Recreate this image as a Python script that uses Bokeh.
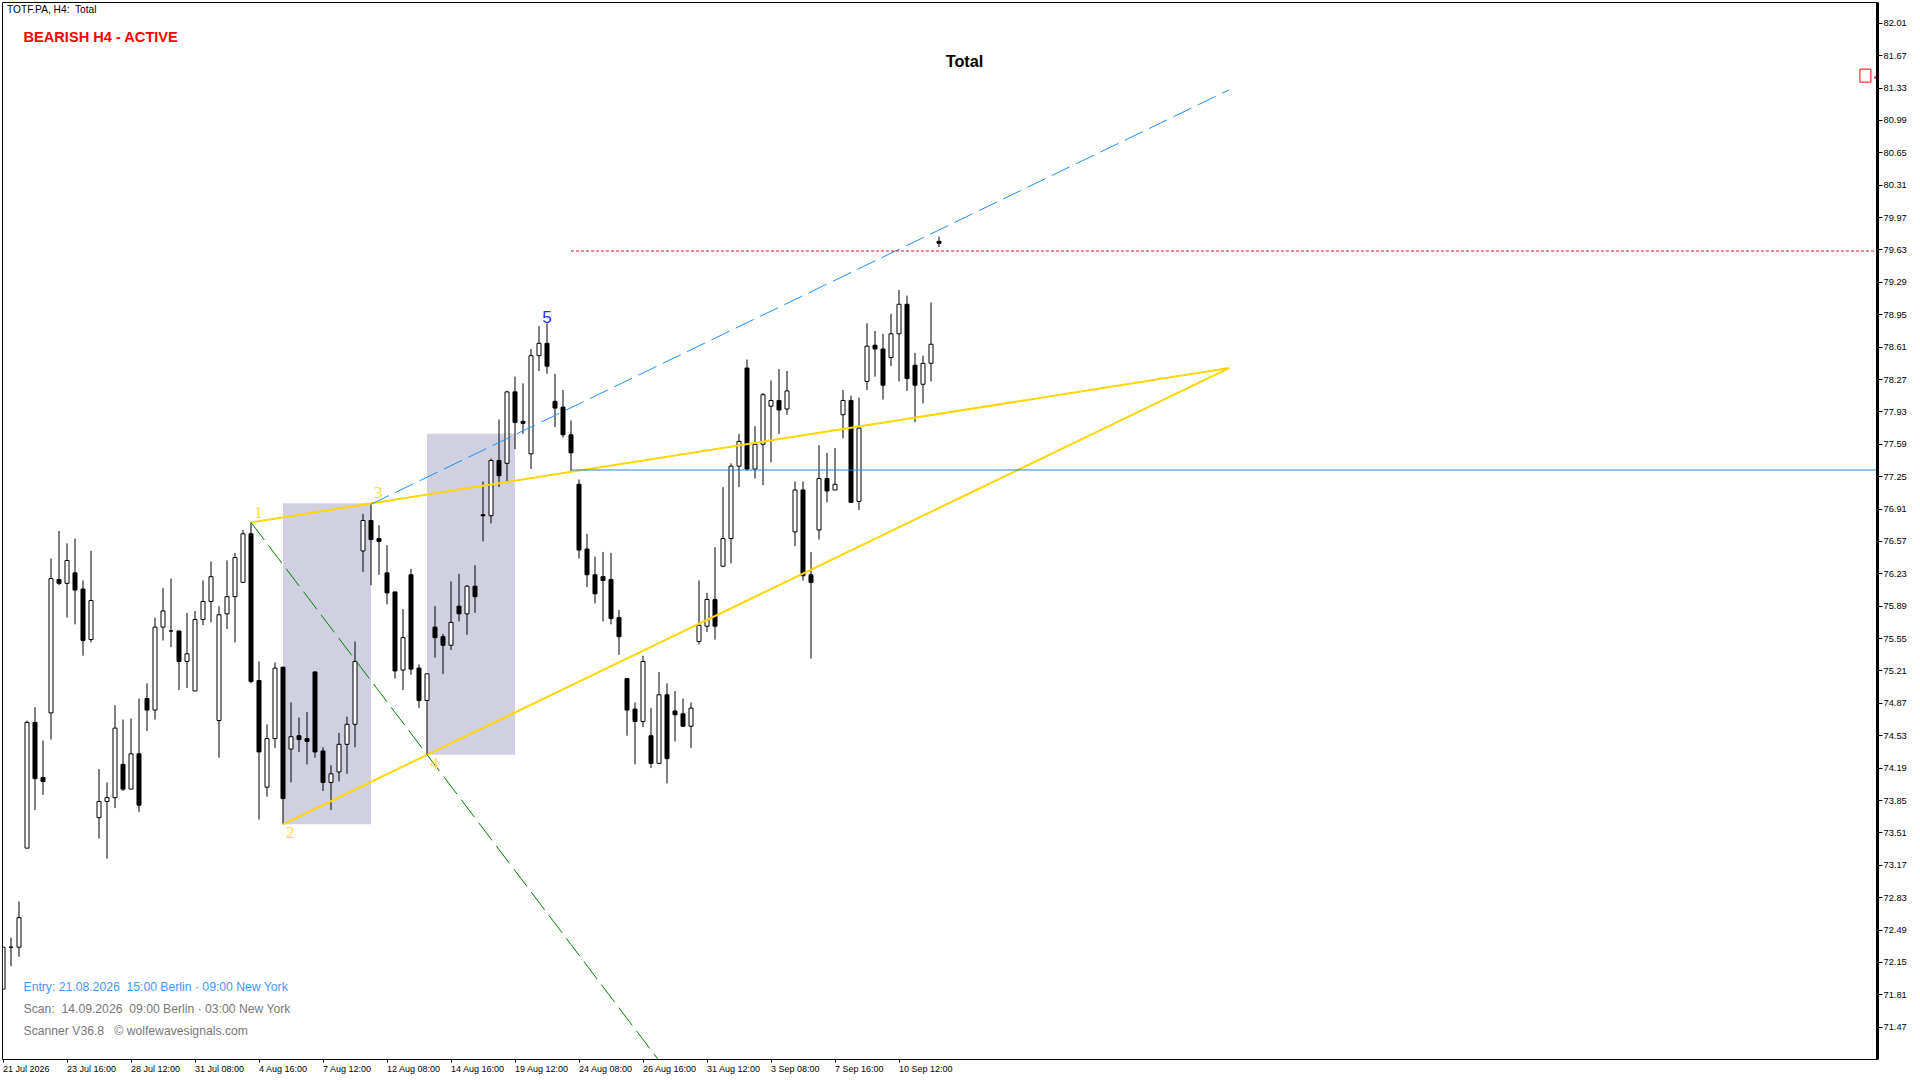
from bokeh.plotting import figure
from bokeh.models import ColumnDataSource, FixedTicker, Label, LabelSet, LinearAxis, Range1d
from bokeh.embed import file_html
from bokeh.resources import INLINE

opens = [71.87,72.31,72.31,73.35,74.67,74.09,74.77,76.17,76.13,76.24,76.07,75.54,73.67,73.84,73.88,74.23,73.97,74.34,74.92,74.80,
75.67,75.63,75.63,75.31,75.00,75.75,75.94,74.69,75.81,75.99,76.14,76.65,75.11,73.99,74.50,75.25,74.39,74.53,74.50,75.20,
74.37,74.04,74.15,74.44,74.65,76.47,76.79,76.60,76.24,76.04,75.22,76.22,75.24,74.90,75.67,75.57,75.48,75.89,75.81,76.10,
76.85,76.84,77.42,77.39,78.14,77.83,77.49,78.52,78.65,78.04,77.98,77.69,77.17,76.49,76.22,76.20,76.17,75.77,75.13,74.81,
74.68,74.53,74.24,74.96,74.79,74.76,74.63,75.52,75.68,75.96,76.31,76.60,77.36,78.39,77.33,77.59,77.99,78.05,77.96,76.67,
77.11,76.22,76.69,77.23,77.11,77.90,78.05,76.99,78.25,78.63,78.59,78.50,78.75,79.06,78.42,78.22,78.44,79.72]
highs = [72.31,72.41,72.79,74.69,74.83,74.48,76.39,76.68,76.55,76.60,76.16,76.47,74.18,74.04,74.85,74.70,74.71,74.92,75.08,75.77,
76.08,76.18,75.63,75.82,75.84,76.16,76.36,75.89,76.37,76.45,76.69,76.77,75.31,74.65,75.30,75.25,74.88,74.72,74.78,75.20,
74.41,74.22,74.56,74.73,75.52,76.86,76.96,76.74,76.53,76.04,75.86,76.28,75.28,75.18,75.89,75.60,76.15,76.23,76.11,76.32,
77.20,77.44,77.85,78.15,78.30,78.23,78.59,78.83,78.86,78.33,78.16,77.84,77.22,76.65,76.41,76.46,76.45,75.85,75.13,74.88,
75.37,74.82,75.20,75.08,75.00,74.92,74.88,76.16,76.03,76.51,77.14,77.39,77.70,78.48,77.78,78.13,78.26,78.38,78.36,77.20,
77.20,76.46,77.58,77.50,77.55,78.16,78.10,78.08,78.86,78.78,78.75,78.96,79.21,79.15,78.55,78.52,79.08,79.77]
lows = [71.87,72.11,72.21,73.35,73.75,73.91,74.49,76.11,75.77,75.70,75.37,75.51,73.45,73.24,73.77,73.95,73.97,73.73,74.58,74.70,
75.53,75.46,75.01,75.03,75.00,75.69,75.72,74.30,75.65,75.51,76.14,75.08,73.65,73.89,74.40,73.60,74.04,74.36,74.23,74.30,
73.95,73.75,74.05,74.13,74.41,76.25,76.11,76.22,75.91,75.13,75.01,75.17,74.82,74.34,75.35,75.18,75.43,75.73,75.59,75.82,
76.57,76.76,77.14,77.20,77.54,77.70,77.33,78.36,78.33,77.77,77.66,77.31,76.39,76.09,75.92,75.73,75.70,75.38,74.53,74.23,
74.62,74.19,74.24,74.03,74.47,74.62,74.40,75.49,75.62,75.54,76.30,76.34,77.14,77.31,77.23,77.16,77.40,77.70,77.90,76.52,
76.16,75.34,76.59,76.98,77.11,77.65,76.98,76.90,78.16,78.30,78.06,78.41,78.25,78.15,77.82,78.02,78.25,79.66]
closes = [72.31,72.31,72.62,74.67,74.08,74.05,76.18,76.13,76.37,76.06,75.53,75.95,73.84,73.88,74.61,73.97,74.34,73.80,74.80,75.67,
75.84,75.63,75.31,75.39,75.75,75.94,76.20,75.80,75.99,76.40,76.65,75.10,74.36,74.50,75.24,73.87,74.52,74.49,74.47,74.36,
74.04,74.13,74.44,74.65,75.31,76.79,76.59,76.57,76.03,75.21,75.56,75.23,74.90,75.18,75.56,75.48,75.72,75.81,76.10,75.99,
76.84,77.42,77.26,78.14,77.82,77.81,78.52,78.65,78.41,77.97,77.69,77.50,76.48,76.22,76.02,76.16,75.76,75.57,74.80,74.68,
75.31,74.24,74.96,74.29,74.75,74.63,74.82,75.69,75.96,75.68,76.60,77.36,77.62,77.33,77.59,78.11,78.05,77.95,78.15,77.11,
76.21,76.14,77.23,77.10,77.17,78.05,76.98,77.76,78.62,78.59,78.21,78.75,79.06,78.28,78.21,78.44,78.64,79.70]

y_ticks = [82.01,81.67,81.33,80.99,80.65,80.31,79.97,79.63,79.29,78.95,78.61,78.27,77.93,77.59,77.25,76.91,
           76.57,76.23,75.89,75.55,75.21,74.87,74.53,74.19,73.85,73.51,73.17,72.83,72.49,72.15,71.81,71.47]
x_tick_index = [0,8,16,24,32,40,48,56,64,72,80,88,96,104,112]
x_tick_labels = ["21 Jul 2026","23 Jul 16:00","28 Jul 12:00","31 Jul 08:00","4 Aug 16:00","7 Aug 12:00","12 Aug 08:00",
                 "14 Aug 16:00","19 Aug 12:00","24 Aug 08:00","26 Aug 16:00","31 Aug 12:00","3 Sep 08:00","7 Sep 16:00","10 Sep 12:00"]

box_left = [35, 53]
box_right = [46, 64]
box_bottom = [73.60, 74.33]
box_top = [76.97, 77.70]

upper_x = [31, 153.25]
upper_y = [76.77, 78.39]
lower_x = [35, 153.25]
lower_y = [73.60, 78.39]
blue_x = [46, 153.25]
blue_y = [76.96, 81.31]
green_x = [31, 81.9]
green_y = [76.77, 71.13]
level_start = 71
red_level = 79.619
blue_level = 77.32
wave_x = [31.9, 35.9, 46.9, 53.9]
wave_y = [76.87, 73.51, 77.08, 74.24]
wave_text = ["1", "2", "3", "4"]
x_lo, x_hi = -0.0625, 234.31
y_lo, y_hi = 71.131, 82.228

p = figure(width=1920, height=1080, output_backend="svg", toolbar_location=None,
           x_range=Range1d(x_lo, x_hi), y_range=Range1d(y_lo, y_hi), y_axis_location="right",
           min_border_left=2, min_border_top=2, min_border_bottom=21, min_border_right=43,
           background_fill_color="white", border_fill_color="white")
p.styles = {"position": "absolute", "left": "0px", "top": "0px"}
p.grid.visible = False
p.outline_line_color = "black"
p.outline_line_width = 1

ya = p.yaxis[0]
ya.ticker = FixedTicker(ticks=y_ticks)
ya.major_label_overrides = {t: f"{t:.2f}" for t in y_ticks}
ya.axis_line_color = "black"
ya.axis_line_width = 3
ya.major_tick_in = 0
ya.major_tick_out = 5
ya.minor_tick_line_color = None
ya.major_tick_line_color = "black"
ya.major_label_standoff = 1
ya.major_label_text_font = "Liberation Sans"
ya.major_label_text_font_size = "9.3px"
ya.major_label_text_color = "black"

xa = p.xaxis[0]
xa.ticker = FixedTicker(ticks=x_tick_index)
xa.major_label_overrides = {t: "" for t in x_tick_index}
xa.axis_line_color = "black"
xa.major_tick_in = 0
xa.major_tick_out = 3
xa.major_label_standoff = 0
xa.minor_tick_line_color = None
xa.major_tick_line_color = "black"

# Labels start at their tick in the reference: a second axis carries them, centred half a label to the right.
char_em = {" ": .278, ":": .278, "J": .5, "u": .556, "l": .222, "A": .667, "g": .556, "S": .667, "e": .556, "p": .556}
def half_width_in_bars(text, px=9):
    return sum(char_em.get(c, .556) for c in text) * px / 2 / 8
label_pos = [t + half_width_in_bars(s) for t, s in zip(x_tick_index, x_tick_labels)]
xl = LinearAxis(ticker=FixedTicker(ticks=label_pos),
                major_label_overrides=dict(zip(label_pos, x_tick_labels)),
                axis_line_color=None, major_tick_line_color=None, minor_tick_line_color=None,
                major_tick_in=0, major_tick_out=0, major_label_standoff=1,
                major_label_text_font="Liberation Sans", major_label_text_font_size="9px",
                major_label_text_color="black")
p.add_layout(xl, "below")

p.quad(left=box_left, right=box_right, bottom=box_bottom, top=box_top, fill_color="#D0D0E0", line_color=None)

idx = list(range(len(opens)))
tops = [max(a, b) for a, b in zip(opens, closes)]
bottoms = [min(a, b) for a, b in zip(opens, closes)]
fills = ["white" if c >= o else "black" for o, c in zip(opens, closes)]
src = ColumnDataSource(dict(x=idx, high=highs, low=lows, top=tops, bottom=bottoms, fill=fills))
p.segment(x0="x", x1="x", y0="low", y1="high", source=src, line_color="black", line_width=1)
p.vbar(x="x", width=0.5, top="top", bottom="bottom", source=src, fill_color="fill", line_color="black", line_width=1)

p.line(upper_x, upper_y, line_color="#FFD700", line_width=2)
p.line(lower_x, lower_y, line_color="#FFD700", line_width=2)
p.line(blue_x, blue_y, line_color="#1E90FF", line_width=1, line_dash="20 7")
p.line(green_x, green_y, line_color="#008000", line_width=1, line_dash="22 7")
p.line([level_start, x_hi], [red_level, red_level], line_color="#D81020", line_width=1, line_dash="3 2")
p.line([level_start, x_hi], [blue_level, blue_level], line_color="#2A85E0", line_width=1)

p.rect(x=[232.8], y=[81.46], width=11, height=13, width_units="screen", height_units="screen",
       fill_color=None, line_color="#FF0000", line_width=1)
p.segment(x0=[233.9], x1=[234.31], y0=[81.44], y1=[81.44], line_color="#FF0000", line_width=2)

wave_src = ColumnDataSource(dict(x=wave_x, y=wave_y, t=wave_text))
p.add_layout(LabelSet(x="x", y="y", text="t", source=wave_src, text_align="center", text_baseline="middle",
                      text_font="Liberation Sans", text_font_size="17px", text_color="#FFD84A"))
p.add_layout(Label(x=68, y=78.93, text="5", text_align="center", text_baseline="middle",
                   text_font="Liberation Sans", text_font_size="17px", text_color="#2A2AFF"))

def note(text, x, top_px, size, color, bold=False, align="left"):
    p.add_layout(Label(x=(x - 2.5) / 8, y=y_hi, y_offset=-(top_px - 2), text=text, text_align=align, text_baseline="middle",
                       text_font="Liberation Sans", text_font_size=size, text_color=color,
                       text_font_style="bold" if bold else "normal"))

note("TOTF.PA, H4:\u00a0 Total", 6.5, 8.5, "10.2px", "black")
note("BEARISH H4 - ACTIVE", 23, 36, "14.6px", "#FF0000", True)
note("Total", 964, 60, "16.3px", "black", True, "center")
note("Entry: 21.08.2026\u00a0 15:00 Berlin · 09:00 New York", 23, 986, "12.2px", "#3D9BFF")
note("Scan:\u00a0 14.09.2026\u00a0 09:00 Berlin · 03:00 New York", 23, 1008, "12.2px", "#777777")
note("Scanner V36.8\u00a0 \u00a0© wolfewavesignals.com", 23, 1030, "12.2px", "#777777")

open("out.html", "w").write(file_html(p, INLINE))
